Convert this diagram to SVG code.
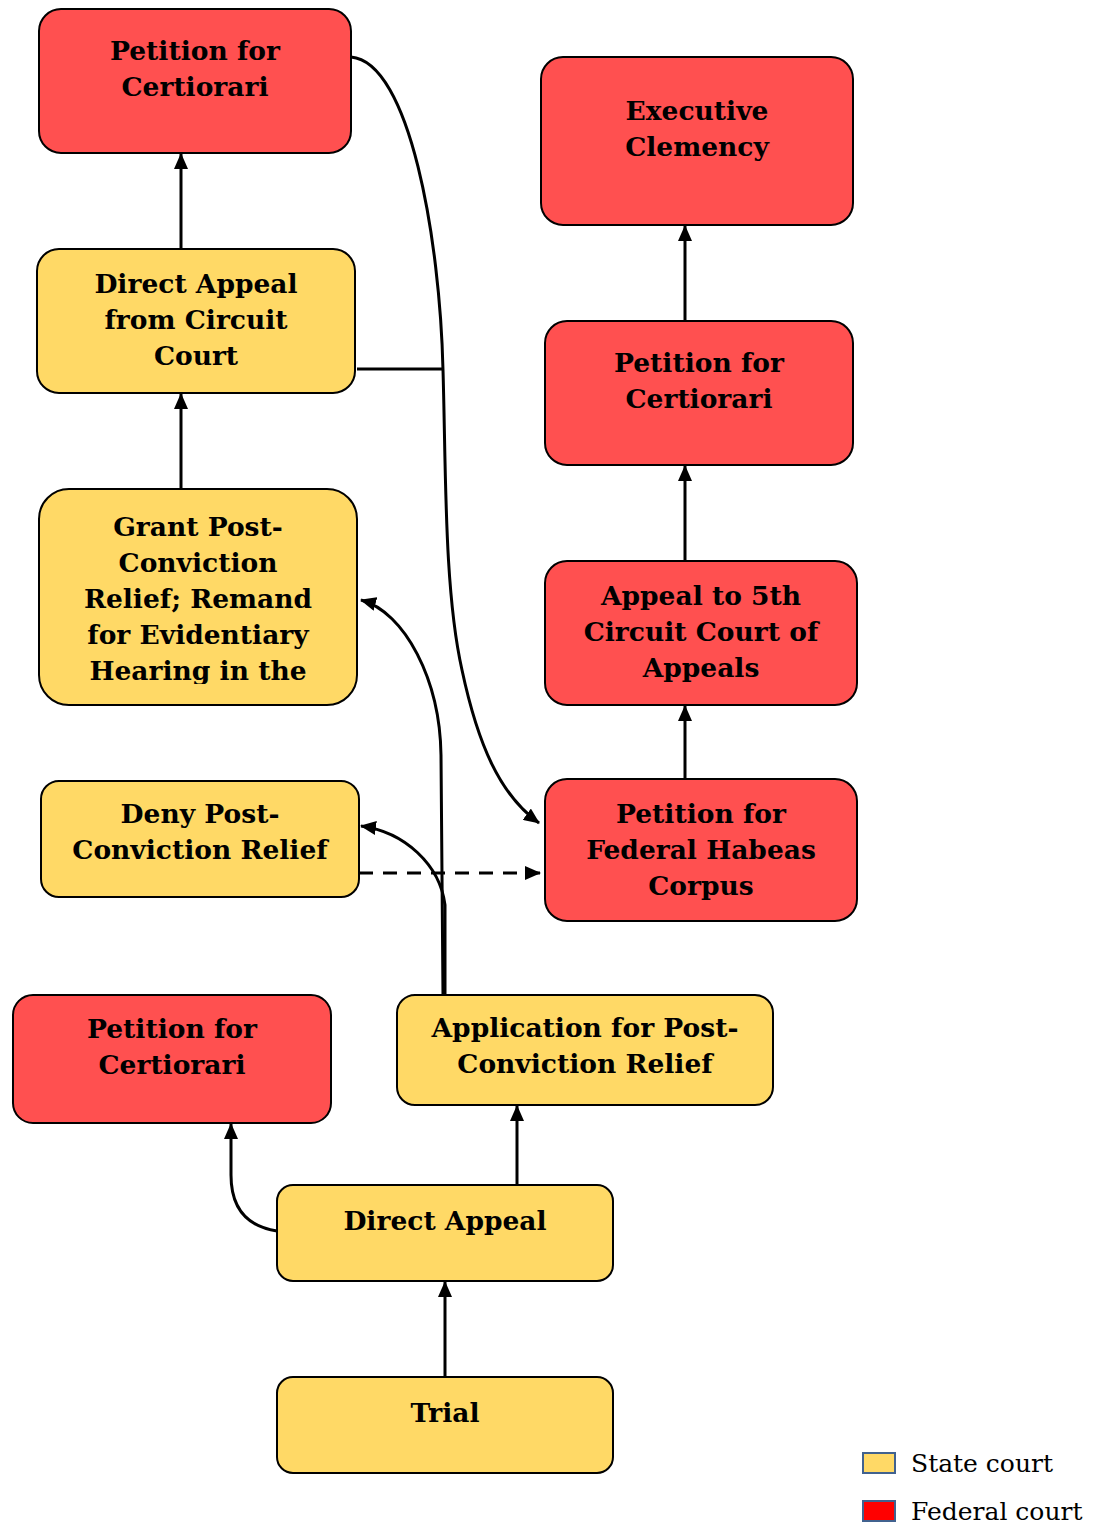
<svg xmlns="http://www.w3.org/2000/svg" width="1102" height="1526" viewBox="0 0 1102 1526">
<style>
.box{stroke:#000;stroke-width:2}
.st{fill:#FFD966}
.fd{fill:#FF5050}
.lbl{font-family:"DejaVu Serif","Liberation Serif",serif;font-weight:bold;font-size:26.5px;fill:#000;text-anchor:middle}
.leg{font-family:"DejaVu Serif","Liberation Serif",serif;font-size:25px;fill:#000}
.c{fill:none;stroke:#000;stroke-width:3}
.d{stroke-dasharray:14 10}
</style>
<defs>
<marker id="ah" viewBox="0 0 16 14" refX="15" refY="7" markerWidth="16" markerHeight="14" markerUnits="userSpaceOnUse" orient="auto">
<path d="M0,0 L16,7 L0,14 Z" fill="#000"/>
</marker>
<clipPath id="gclip"><rect x="39" y="489" width="318" height="195"/></clipPath>
</defs>
<rect width="1102" height="1526" fill="#fff"/>

<g id="connectors">
<path class="c" d="M181,249 L181,154" marker-end="url(#ah)"/>
<path class="c" d="M181,489 L181,394" marker-end="url(#ah)"/>
<path class="c" d="M685,321 L685,226" marker-end="url(#ah)"/>
<path class="c" d="M685,561 L685,466" marker-end="url(#ah)"/>
<path class="c" d="M685,779 L685,706" marker-end="url(#ah)"/>
<path class="c" d="M445,1377 L445,1282" marker-end="url(#ah)"/>
<path class="c" d="M517,1185 L517,1106" marker-end="url(#ah)"/>
<path class="c" d="M277,1231 C244,1226 231,1205 231,1175 L231,1124" marker-end="url(#ah)"/>
<path class="c" d="M351,57 C410,62 440,240 443,370 C446,470 444,590 462,670 C478,745 500,795 539,823" marker-end="url(#ah)"/>
<path class="c" d="M357,369 L443,369"/>
<path class="c" d="M443,995 L441,755 C440,680 405,612 361,600" marker-end="url(#ah)"/>
<path class="c" d="M445,995 L445,905 C440,865 405,832 361,826" marker-end="url(#ah)"/>
<path class="c d" d="M359,873 L540,873" marker-end="url(#ah)"/>
</g>

<g id="n1"><rect class="box fd" x="39" y="9" width="312" height="144" rx="22"/>
<text class="lbl" x="195" y="60">Petition for</text><text class="lbl" x="195" y="96">Certiorari</text></g>

<g id="n2"><rect class="box fd" x="541" y="57" width="312" height="168" rx="22"/>
<text class="lbl" x="697" y="120">Executive</text><text class="lbl" x="697" y="156">Clemency</text></g>

<g id="n3"><rect class="box st" x="37" y="249" width="318" height="144" rx="22"/>
<text class="lbl" x="196" y="293">Direct Appeal</text><text class="lbl" x="196" y="329">from Circuit</text><text class="lbl" x="196" y="365">Court</text></g>

<g id="n4"><rect class="box fd" x="545" y="321" width="308" height="144" rx="22"/>
<text class="lbl" x="699" y="372">Petition for</text><text class="lbl" x="699" y="408">Certiorari</text></g>

<g id="n5"><rect class="box st" x="39" y="489" width="318" height="216" rx="30"/>
<g clip-path="url(#gclip)">
<text class="lbl" x="198" y="536">Grant Post-</text><text class="lbl" x="198" y="572">Conviction</text><text class="lbl" x="198" y="608">Relief; Remand</text><text class="lbl" x="198" y="644">for Evidentiary</text><text class="lbl" x="198" y="680">Hearing in the</text>
</g></g>

<g id="n6"><rect class="box fd" x="545" y="561" width="312" height="144" rx="22"/>
<text class="lbl" x="701" y="605">Appeal to 5th</text><text class="lbl" x="701" y="641">Circuit Court of</text><text class="lbl" x="701" y="677">Appeals</text></g>

<g id="n7"><rect class="box st" x="41" y="781" width="318" height="116" rx="18"/>
<text class="lbl" x="200" y="823">Deny Post-</text><text class="lbl" x="200" y="859">Conviction Relief</text></g>

<g id="n8"><rect class="box fd" x="545" y="779" width="312" height="142" rx="22"/>
<text class="lbl" x="701" y="823">Petition for</text><text class="lbl" x="701" y="859">Federal Habeas</text><text class="lbl" x="701" y="895">Corpus</text></g>

<g id="n9"><rect class="box fd" x="13" y="995" width="318" height="128" rx="20"/>
<text class="lbl" x="172" y="1038">Petition for</text><text class="lbl" x="172" y="1074">Certiorari</text></g>

<g id="n10"><rect class="box st" x="397" y="995" width="376" height="110" rx="18"/>
<text class="lbl" x="585" y="1037">Application for Post-</text><text class="lbl" x="585" y="1073">Conviction Relief</text></g>

<g id="n11"><rect class="box st" x="277" y="1185" width="336" height="96" rx="16"/>
<text class="lbl" x="445" y="1230">Direct Appeal</text></g>

<g id="n12"><rect class="box st" x="277" y="1377" width="336" height="96" rx="16"/>
<text class="lbl" x="445" y="1422">Trial</text></g>

<g id="legend">
<rect x="863" y="1453" width="32" height="20" fill="#FFD966" stroke="#41628F" stroke-width="2"/>
<text class="leg" x="911" y="1472">State court</text>
<rect x="863" y="1501" width="32" height="20" fill="#FF0000" stroke="#41628F" stroke-width="2"/>
<text class="leg" x="911" y="1520">Federal court</text>
</g>
</svg>
